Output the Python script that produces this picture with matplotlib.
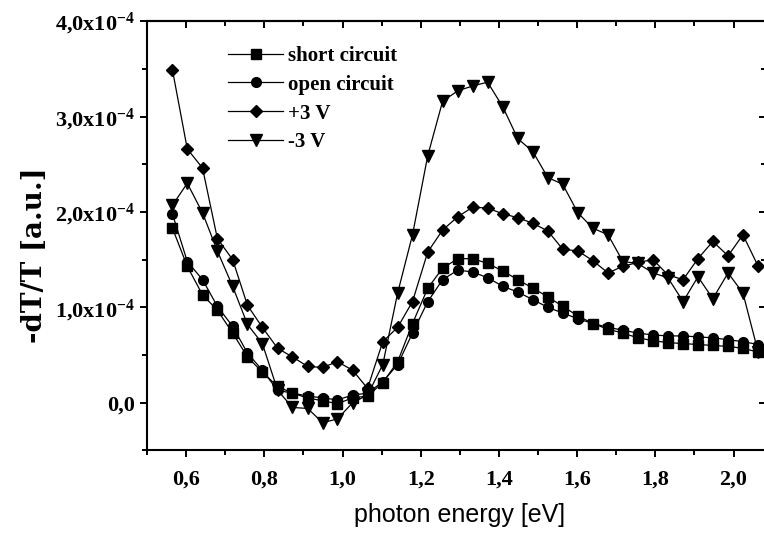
import numpy as np
import matplotlib
matplotlib.use("Agg")
import matplotlib.pyplot as plt
from matplotlib.ticker import MultipleLocator, FuncFormatter

# photon energy [eV]
energy = [0.565, 0.603, 0.642, 0.680, 0.719, 0.757, 0.795, 0.834, 0.872, 0.911,
          0.949, 0.987, 1.026, 1.064, 1.103, 1.141, 1.179, 1.218, 1.256, 1.295,
          1.333, 1.371, 1.410, 1.448, 1.487, 1.525, 1.563, 1.602, 1.640, 1.679,
          1.717, 1.755, 1.794, 1.832, 1.871, 1.909, 1.947, 1.986, 2.024, 2.063]

# -dT/T in units of 1e-4
short_circuit = [1.83, 1.43, 1.13, 0.97, 0.73, 0.48, 0.32, 0.17, 0.10, 0.05,
                 0.02, -0.01, 0.05, 0.07, 0.21, 0.43, 0.83, 1.20, 1.41, 1.51,
                 1.51, 1.46, 1.38, 1.29, 1.20, 1.11, 1.01, 0.91, 0.83, 0.77,
                 0.73, 0.68, 0.65, 0.63, 0.62, 0.61, 0.60, 0.59, 0.57, 0.53]
open_circuit = [1.98, 1.48, 1.29, 1.01, 0.80, 0.52, 0.34, 0.13, 0.10, 0.07,
                0.05, 0.03, 0.08, 0.10, 0.22, 0.40, 0.73, 1.06, 1.29, 1.39,
                1.37, 1.31, 1.22, 1.16, 1.08, 1.00, 0.94, 0.88, 0.83, 0.79,
                0.76, 0.73, 0.71, 0.70, 0.70, 0.69, 0.68, 0.66, 0.64, 0.61]
plus_3v = [3.49, 2.66, 2.46, 1.72, 1.50, 1.02, 0.79, 0.57, 0.48, 0.38,
           0.37, 0.43, 0.34, 0.15, 0.64, 0.79, 1.06, 1.58, 1.81, 1.95,
           2.05, 2.04, 1.98, 1.94, 1.88, 1.80, 1.61, 1.59, 1.49, 1.36,
           1.43, 1.47, 1.50, 1.34, 1.29, 1.51, 1.69, 1.54, 1.76, 1.43]
minus_3v = [2.07, 2.30, 1.99, 1.59, 1.22, 0.82, 0.62, 0.13, -0.05, -0.06,
            -0.21, -0.17, 0.00, 0.08, 0.40, 1.15, 1.76, 2.59, 3.16, 3.27,
            3.32, 3.36, 3.10, 2.77, 2.63, 2.36, 2.29, 1.99, 1.83, 1.76,
            1.48, 1.46, 1.36, 1.31, 1.06, 1.32, 1.09, 1.36, 1.15, 0.53]

series = [
    ("short circuit", short_circuit, "s", 6.5),
    ("open circuit", open_circuit, "o", 7.0),
    ("+3 V", plus_3v, "D", 6.3),
    ("-3 V", minus_3v, "v", 8.0),
]

plt.rcParams["mathtext.fontset"] = "custom"
plt.rcParams["mathtext.rm"] = "Liberation Serif:bold"
plt.rcParams["mathtext.it"] = "Liberation Serif:bold"
plt.rcParams["mathtext.bf"] = "Liberation Serif:bold"

W, H = 764, 533
fig = plt.figure(figsize=(W / 100, H / 100), dpi=100)
# axes box in pixels: left 147, right 766 (just past the edge), top 21, bottom 450
ax = fig.add_axes([147 / W, (H - 450.4) / H, (766 - 147) / W, (450.4 - 21.1) / H])

for label, vals, marker, ms in series:
    ax.plot(energy, np.array(vals) * 1e-4, color="black", lw=0.9,
            marker=marker, markersize=ms, markerfacecolor="black",
            markeredgecolor="black", label=label)

ax.set_xlim(0.5, 2.083)
ax.set_ylim(-0.5e-4, 4.0e-4)

ax.xaxis.set_major_locator(MultipleLocator(0.2))
ax.xaxis.set_minor_locator(MultipleLocator(0.1))
ax.yaxis.set_major_locator(MultipleLocator(1e-4))
ax.yaxis.set_minor_locator(MultipleLocator(0.5e-4))


def xfmt(v, pos):
    return f"{v:.1f}".replace(".", ",")


def yfmt(v, pos):
    m = v / 1e-4
    if abs(m) < 1e-9:
        return "0,0"
    return f"{m:.1f}".replace(".", ",") + "x10$^{-4}$"


ax.xaxis.set_major_formatter(FuncFormatter(xfmt))
ax.yaxis.set_major_formatter(FuncFormatter(yfmt))

for lab in ax.get_xticklabels() + ax.get_yticklabels():
    lab.set_fontfamily("Liberation Serif")
    lab.set_fontweight("bold")
    lab.set_fontsize(16)

ax.tick_params(which="both", direction="out", width=1.4)
ax.tick_params(which="major", length=5)
ax.tick_params(which="minor", length=3.3)
ax.tick_params(axis="x", pad=9)
ax.tick_params(axis="y", pad=4)

for sp in ax.spines.values():
    sp.set_linewidth(1.5)

# mirrored ticks pointing inward on top and right
top = ax.secondary_xaxis("top")
top.xaxis.set_major_locator(MultipleLocator(0.2))
top.xaxis.set_minor_locator(MultipleLocator(0.1))
top.tick_params(which="both", direction="in", labeltop=False, width=1.4)
top.tick_params(which="major", length=5)
top.tick_params(which="minor", length=3.3)
top.spines["top"].set_linewidth(1.5)

right = ax.secondary_yaxis("right")
right.yaxis.set_major_locator(MultipleLocator(1e-4))
right.yaxis.set_minor_locator(MultipleLocator(0.5e-4))
right.tick_params(which="both", direction="in", labelright=False, width=1.4)
right.tick_params(which="major", length=5)
right.tick_params(which="minor", length=3.3)

leg = ax.legend(loc="upper left", bbox_to_anchor=((228 - 147) / 619, (450.4 - 46) / 429.3),
                frameon=False, borderpad=0, borderaxespad=0, handlelength=2.65,
                handletextpad=0.25, labelspacing=0.42,
                prop={"family": "Liberation Serif", "weight": "bold", "size": 15})

fig.text(35 / W, 1 - 255 / H, "-dT/T [a.u.]", rotation=90, ha="center", va="center",
         family="DejaVu Serif", weight="bold", fontsize=20)
fig.text(460 / W, 1 - 515 / H, "photon energy [eV]", ha="center", va="center",
         family="Liberation Sans", fontsize=18)

fig.savefig("out.png", dpi=100)
